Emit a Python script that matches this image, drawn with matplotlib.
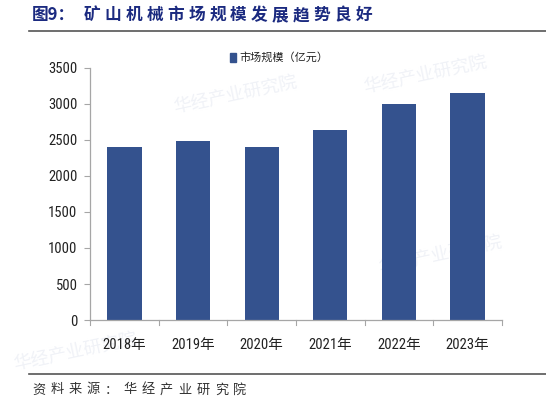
import matplotlib
matplotlib.use("Agg")
import matplotlib.pyplot as plt
import matplotlib.font_manager as fm
from matplotlib.patches import Rectangle
from matplotlib.lines import Line2D

years = ["2018年", "2019年", "2020年", "2021年", "2022年", "2023年"]
market_size = [2400, 2480, 2400, 2640, 3000, 3150]
y_ticks = [0, 500, 1000, 1500, 2000, 2500, 3000, 3500]

title_head = "图9："
title_body = "矿山机械市场规模发展趋势良好"
legend_label = "市场规模（亿元）"
source = "资料来源：华经产业研究院"
watermark = "华经产业研究院"

# the reference uses a narrow sans for numbers; pick one if the box has it
names = {f.name for f in fm.fontManager.ttflist}
narrow = next((n for n in ["Liberation Sans Narrow", "Arial Narrow", "Roboto Condensed",
                           "Open Sans Condensed", "DejaVu Sans Condensed"] if n in names), None)
if narrow:
    num_font = [narrow, "Noto Sans CJK SC"]
    num_size = 10.5
else:
    num_font = ["Liberation Sans", "Noto Sans CJK SC"]
    num_size = 9.5
cjk_font = ["Noto Sans CJK SC", "DejaVu Sans"]
bar_color = "#34528E"
axis_color = "#A6A6A6"

W, H = 546, 405
fig = plt.figure(figsize=(W / 100, H / 100), dpi=100)

def px(x, y):
    return x / W, 1 - y / H

# faint watermarks, kept behind the bars
for (wx, wy) in [(235, 95), (425, 75), (440, 255), (75, 352)]:
    fig.text(*px(wx, wy), watermark, family=cjk_font, fontsize=13, color="#F0F2F7",
             rotation=12, ha="center", va="center", zorder=-1)

x0, x1, ytop, ybot = 90, 502, 68, 320
ax = fig.add_axes([x0 / W, 1 - ybot / H, (x1 - x0) / W, (ybot - ytop) / H])
ax.patch.set_alpha(0)

pos = list(range(len(years)))
ax.bar(pos, market_size, width=0.5, color=bar_color, zorder=2)

ax.set_xlim(-0.5, len(years) - 0.5)
ax.set_ylim(0, 3500)
ax.set_yticks(y_ticks)
ax.set_yticklabels([str(v) for v in y_ticks], family=num_font, fontsize=num_size, color="#222222")
ax.set_xticks(pos)
ax.set_xticklabels(years, family=num_font, fontsize=num_size, color="#222222")
ax.tick_params(axis="x", length=0, pad=13)
ax.tick_params(axis="y", length=4, width=0.8, color=axis_color, pad=5)

# category boundary ticks on the x axis
for b in [i - 0.5 for i in range(len(years) + 1)]:
    ax.plot([b, b], [0, -70], color=axis_color, lw=0.8, clip_on=False)

for s in ["top", "right"]:
    ax.spines[s].set_visible(False)
for s in ["left", "bottom"]:
    ax.spines[s].set_color(axis_color)
    ax.spines[s].set_linewidth(0.9)

# legend
fig.patches.append(Rectangle(px(230, 62), 6 / W, 9 / H,
                             transform=fig.transFigure, color=bar_color))
fig.text(*px(239, 57), legend_label, family=cjk_font, fontsize=8,
         va="center", ha="left", color="#222222")

# title, spaced out like the original
fig.text(*px(32, 15), title_head, family=cjk_font, fontsize=12, fontweight="bold",
         color="#1B2A80", va="center", ha="left")
for i, ch in enumerate(title_body):
    fig.text(*px(92 + 20.9 * i, 15), ch, family=cjk_font, fontsize=12, fontweight="bold",
             color="#1B2A80", va="center", ha="center")
fig.add_artist(Line2D([29 / W, 1], [1 - 31 / H, 1 - 31 / H], color="#555555", lw=1.2))

# source line
fig.add_artist(Line2D([29 / W, 1], [1 - 374 / H, 1 - 374 / H], color="#555555", lw=1.2))
for i, ch in enumerate(source):
    fig.text(*px(38.5 + 18.3 * i, 390), ch, family=cjk_font, fontsize=9.5,
             color="#333333", va="center", ha="center")

fig.savefig("out.png", dpi=100)
